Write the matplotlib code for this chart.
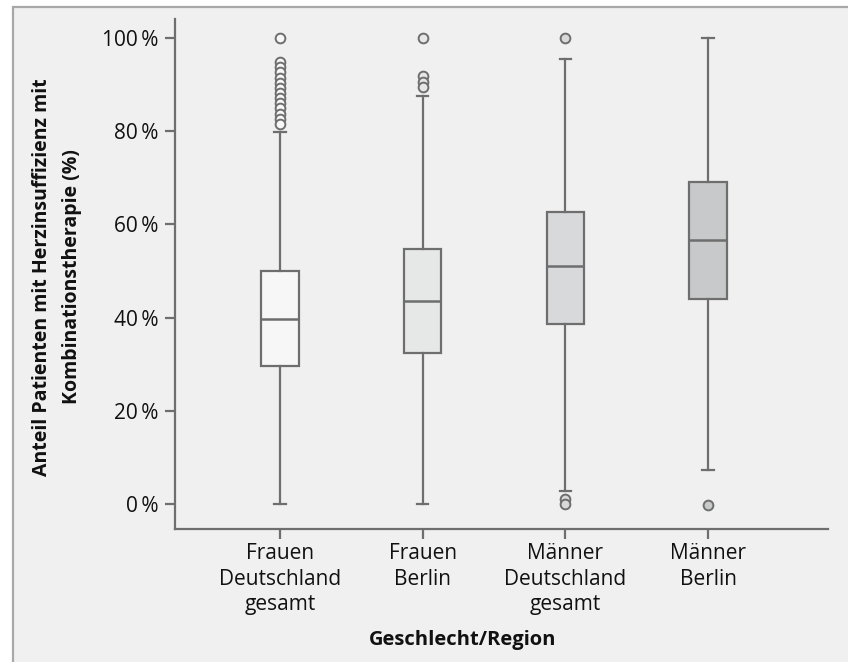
#!/usr/bin/env python3
"""
Boxplot: Anteil Patienten mit Herzinsuffizienz mit Kombinationstherapie
nach Geschlecht/Region
"""

import matplotlib
matplotlib.use("Agg")
import matplotlib.pyplot as plt
from matplotlib.patches import Rectangle

# Kategorien (Tick-Beschriftungen)
groups = ["Frauen\nDeutschland\ngesamt", "Frauen\nBerlin",
          "Männer\nDeutschland\ngesamt", "Männer\nBerlin"]

# Kennwerte je Gruppe in %
whisker_low = [0.0, 0.0, 2.9, 7.2]
q1 = [29.6, 32.5, 38.6, 44.1]
median = [39.8, 43.5, 51.1, 56.7]
q3 = [50.0, 54.7, 62.7, 69.0]
whisker_high = [79.8, 87.6, 95.5, 100.0]

# Ausreißer
outliers = [
    [100.0, 94.8, 93.7, 92.6, 91.5, 90.4, 89.3, 88.2, 87.1, 86.0, 84.9, 83.8, 82.7, 81.6],
    [100.0, 91.8, 90.6, 89.5],
    [100.0, 1.0, 0.0],
    [-0.2],
]

y_ticks = [0, 20, 40, 60, 80, 100]

box_colors = ["#f6f7f6", "#e6e8e7", "#d8d9da", "#c8c9ca"]
EDGE = "#6e6e6e"
BG = "#f0f0f0"

W, H = 848, 662


def main():
    plt.rcParams['font.family'] = ['Open Sans', 'DejaVu Sans']

    fig = plt.figure(figsize=(W / 100, H / 100), dpi=100)
    fig.patch.set_facecolor("white")
    frame = Rectangle((12.5 / W, -0.05), 1.2, 1.05 - 6.5 / H,
                      transform=fig.transFigure, facecolor=BG,
                      edgecolor="#a8a8a8", linewidth=1.6, zorder=-10)
    fig.patches.append(frame)

    ax = fig.add_axes([175 / W, 1 - 529 / H, (828 - 175) / W, (529 - 19) / H])
    ax.set_facecolor("none")

    stats = []
    for i in range(len(groups)):
        stats.append({
            "whislo": whisker_low[i], "q1": q1[i], "med": median[i],
            "q3": q3[i], "whishi": whisker_high[i], "fliers": outliers[i],
        })

    positions = list(range(len(groups)))
    bp = ax.bxp(stats, positions=positions, widths=0.26, patch_artist=True,
                showfliers=True, capwidths=0.08,
                boxprops=dict(edgecolor=EDGE, linewidth=1.6),
                medianprops=dict(color=EDGE, linewidth=1.8),
                whiskerprops=dict(color=EDGE, linewidth=1.6),
                capprops=dict(color=EDGE, linewidth=1.6),
                flierprops=dict(marker="o", markersize=7,
                                markeredgecolor=EDGE, markeredgewidth=1.4))
    for patch, col in zip(bp["boxes"], box_colors):
        patch.set_facecolor(col)
    for fl, col in zip(bp["fliers"], box_colors):
        fl.set_markerfacecolor(col)

    ax.set_xlim(-0.736, 3.841)
    ax.set_ylim(-5.36, 104.08)

    ax.set_yticks(y_ticks)
    ax.set_yticklabels([f"{v}\u2009%" for v in y_ticks])
    ax.set_xticks(positions)
    ax.set_xticklabels(groups, linespacing=1.3)

    for side in ["top", "right"]:
        ax.spines[side].set_visible(False)
    for side in ["left", "bottom"]:
        ax.spines[side].set_color(EDGE)
        ax.spines[side].set_linewidth(1.6)

    ax.tick_params(axis="both", colors=EDGE, length=7, width=1.6,
                   labelsize=15, labelcolor="#111111")
    ax.tick_params(axis="y", pad=5)
    ax.tick_params(axis="x", pad=3)

    fig.text(57 / W, 1 - 277 / H,
             "Anteil Patienten mit Herzinsuffizienz mit\nKombinationstherapie (%)",
             rotation=90, ha="center", va="center", fontsize=14,
             fontweight="bold", color="#111111", linespacing=1.65)
    fig.text(463 / W, 1 - 640 / H, "Geschlecht/Region", ha="center",
             va="center", fontsize=14.5, fontweight="bold", color="#111111")

    fig.savefig("out.png", dpi=100)
    plt.close(fig)


if __name__ == "__main__":
    main()
